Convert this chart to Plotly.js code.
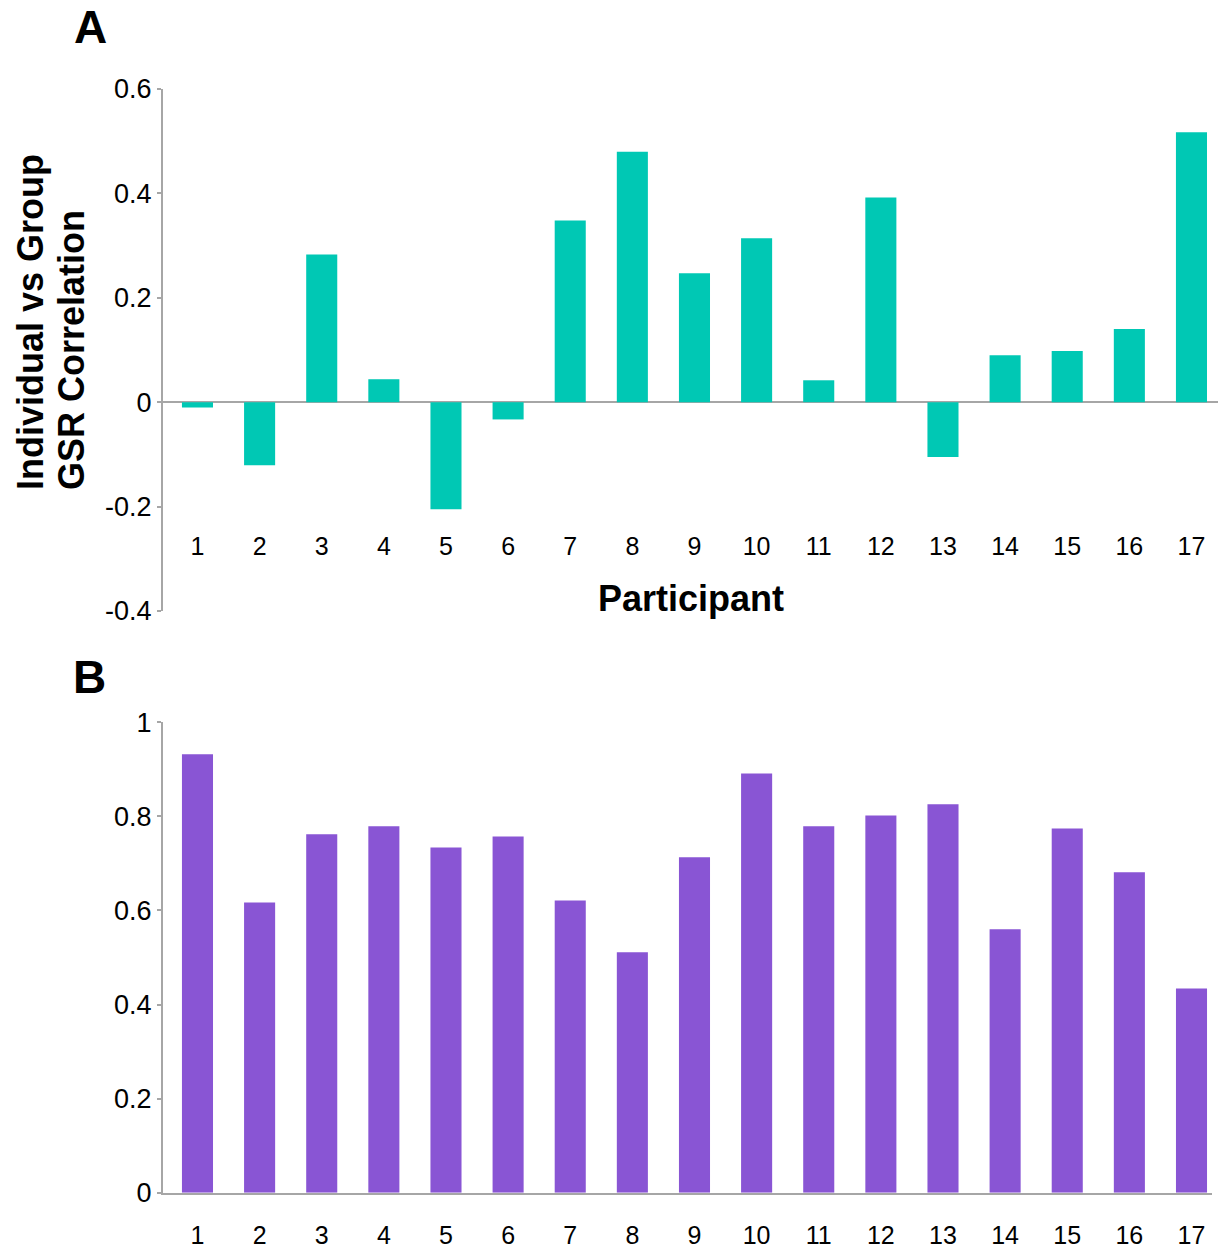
<!DOCTYPE html>
<html>
<head>
<meta charset="utf-8">
<script src="https://cdn.plot.ly/plotly-3.0.1.min.js"></script>
<style>html,body{margin:0;padding:0;background:#fff;}</style>
</head>
<body>
<div id="chart" style="width:1220px;height:1251px;"></div>
<script>
const participants = ["1","2","3","4","5","6","7","8","9","10","11","12","13","14","15","16","17"];
const gsrCorrelationA = [-0.01, -0.121, 0.283, 0.044, -0.205, -0.033, 0.348, 0.48, 0.247, 0.314, 0.042, 0.392, -0.105, 0.09, 0.098, 0.14, 0.517];
const valuesB = [0.932, 0.617, 0.762, 0.779, 0.734, 0.757, 0.621, 0.511, 0.713, 0.891, 0.779, 0.802, 0.826, 0.56, 0.774, 0.681, 0.434];
const yTickValsA = [-0.4, -0.2, 0, 0.2, 0.4, 0.6];
const yTickTextA = ["-0.4", "-0.2", "0", "0.2", "0.4", "0.6"];
const yTickValsB = [0, 0.2, 0.4, 0.6, 0.8, 1];
const yTickTextB = ["0", "0.2", "0.4", "0.6", "0.8", "1"];

const W = 1220, H = 1251;
const px = v => v / W;
const py = v => 1 - v / H;
const FONT = "Liberation Sans, Arial, sans-serif";
const AXC = "#a6a6a6";

const traces = [
  {type: "bar", x: participants, y: gsrCorrelationA, xaxis: "x", yaxis: "y",
   marker: {color: "#00c8b4"}, hoverinfo: "x+y"},
  {type: "bar", x: participants, y: valuesB, xaxis: "x2", yaxis: "y2",
   marker: {color: "#8955d4"}, hoverinfo: "x+y"}
];

const layout = {
  width: W, height: H,
  margin: {l: 0, r: 0, t: 0, b: 0},
  paper_bgcolor: "#fff", plot_bgcolor: "rgba(0,0,0,0)",
  showlegend: false,
  bargap: 0.5,
  font: {family: FONT, color: "#000"},
  xaxis: {
    type: "category", domain: [px(163), px(1218)], range: [-0.555, 16.427],
    anchor: "free", position: py(529),
    showline: false, showgrid: false, zeroline: false, ticks: "",
    tickfont: {size: 25, color: "#000"}
  },
  yaxis: {
    domain: [py(611), py(89)], range: [-0.4, 0.6],
    anchor: "x", tickmode: "array", tickvals: yTickValsA, ticktext: yTickTextA,
    showline: true, linecolor: AXC, linewidth: 2,
    ticks: "outside", ticklen: 4, tickwidth: 2, tickcolor: AXC,
    showgrid: false, zeroline: true, zerolinecolor: AXC, zerolinewidth: 2,
    tickfont: {size: 27, color: "#000"}
  },
  xaxis2: {
    type: "category", domain: [px(163), px(1212)], range: [-0.555, 16.33],
    anchor: "y2", showline: true, linecolor: AXC, linewidth: 2,
    showgrid: false, zeroline: false, ticks: "", ticklabelstandoff: 19,
    tickfont: {size: 25, color: "#000"}
  },
  yaxis2: {
    domain: [py(1192.7), py(722.3)], range: [0, 1],
    anchor: "x2", tickmode: "array", tickvals: yTickValsB, ticktext: yTickTextB,
    showline: true, linecolor: AXC, linewidth: 2,
    ticks: "outside", ticklen: 4, tickwidth: 2, tickcolor: AXC,
    showgrid: false, zeroline: false,
    tickfont: {size: 27, color: "#000"}
  },
  annotations: [
    {text: "<b>A</b>", xref: "paper", yref: "paper", x: px(90), y: py(27),
     xanchor: "center", yanchor: "middle", showarrow: false,
     font: {size: 46, family: FONT, color: "#000"}},
    {text: "<b>B</b>", xref: "paper", yref: "paper", x: px(89), y: py(677),
     xanchor: "center", yanchor: "middle", showarrow: false,
     font: {size: 46, family: FONT, color: "#000"}},
    {text: "<b>Individual vs Group</b>", xref: "paper", yref: "paper",
     x: px(30), y: py(492), xanchor: "center", yanchor: "bottom", textangle: -90,
     showarrow: false, font: {size: 36, family: FONT, color: "#000"}},
    {text: "<b>GSR Correlation</b>", xref: "paper", yref: "paper",
     x: px(71), y: py(492), xanchor: "center", yanchor: "bottom", textangle: -90,
     showarrow: false, font: {size: 36, family: FONT, color: "#000"}},
    {text: "<b>Participant</b>", xref: "paper", yref: "paper",
     x: px(691), y: py(598), xanchor: "center", yanchor: "middle",
     showarrow: false, font: {size: 36, family: FONT, color: "#000"}}
  ]
};

Plotly.newPlot("chart", traces, layout, {displayModeBar: false, staticPlot: true});
</script>
</body>
</html>
